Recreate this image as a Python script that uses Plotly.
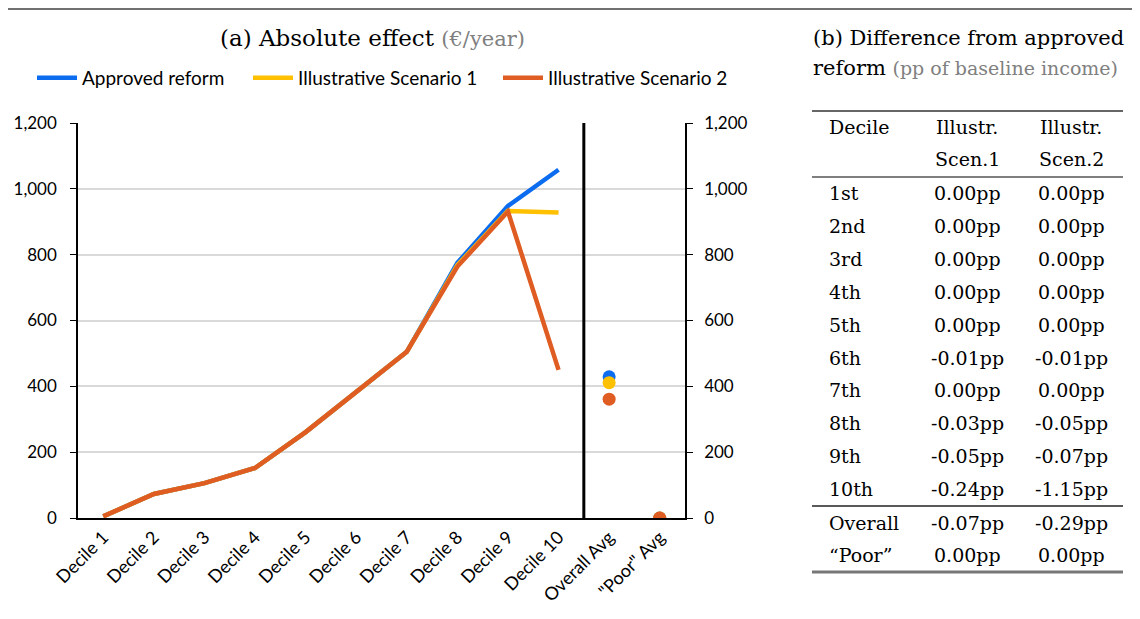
import plotly.graph_objects as go

# ---------------- data ----------------
categories = ["Decile 1", "Decile 2", "Decile 3", "Decile 4", "Decile 5", "Decile 6",
              "Decile 7", "Decile 8", "Decile 9", "Decile 10", "Overall Avg", '"Poor" Avg']
decile_cats = categories[:10]
avg_cats = categories[10:]

approved = [5, 73, 106, 152, 261, 383, 505, 775, 948, 1058]
scen1 = [5, 73, 106, 152, 261, 383, 505, 768, 933, 928]
scen2 = [5, 73, 106, 152, 261, 383, 505, 764, 931, 450]

approved_avg = [429, 0]
scen1_avg = [411, 0]
scen2_avg = [361, 0]

series_names = ["Approved reform", "Illustrative Scenario 1", "Illustrative Scenario 2"]
colors = ["#0B6CF0", "#FFC000", "#DF5C22"]

y_ticks = [0, 200, 400, 600, 800, 1000, 1200]

table_rows = ["1st", "2nd", "3rd", "4th", "5th", "6th", "7th", "8th", "9th", "10th", "Overall", "\u201cPoor\u201d"]
table_scen1 = [0.00, 0.00, 0.00, 0.00, 0.00, -0.01, 0.00, -0.03, -0.05, -0.24, -0.07, 0.00]
table_scen2 = [0.00, 0.00, 0.00, 0.00, 0.00, -0.01, 0.00, -0.05, -0.07, -1.15, -0.29, 0.00]

# ---------------- layout helpers ----------------
OFF = 8  # page body margin
W, H = 1140 - OFF, 619 - OFF
def px(x):
    return (x - OFF) / W
def py(y):
    return 1 - (y - OFF) / H

SANS = "Lato, Carlito, Calibri, sans-serif"
SERIF = "DejaVu Serif, serif"

fig = go.Figure()

legend_ids = ["legend", "legend2", "legend3"]
line_sets = [approved, scen1, scen2]
avg_sets = [approved_avg, scen1_avg, scen2_avg]
for name, col, ys, lg in zip(series_names, colors, line_sets, legend_ids):
    fig.add_trace(go.Scatter(x=decile_cats, y=ys, mode="lines", name=name,
                             line=dict(color=col, width=4.5), legendgroup=name,
                             legend=lg))
for name, col, avgs, lg in zip(series_names, colors, avg_sets, legend_ids):
    fig.add_trace(go.Scatter(x=avg_cats, y=avgs, mode="markers", name=name,
                             marker=dict(color=col, size=13), legendgroup=name,
                             showlegend=False, legend=lg))
# invisible trace to carry the right-hand axis
fig.add_trace(go.Scatter(x=decile_cats, y=approved, mode="lines", yaxis="y2",
                         line=dict(color="rgba(0,0,0,0)", width=0), showlegend=False,
                         hoverinfo="skip"))

axis_font = dict(family=SANS, size=17, color="#000")
legend_font = dict(family=SANS, size=19, color="#000")
def legend_at(xpage):
    return dict(orientation="h", x=px(xpage), y=py(78), xanchor="left",
                yanchor="middle", font=legend_font, bgcolor="rgba(0,0,0,0)",
                borderwidth=0, itemwidth=40)

fig.update_layout(
    width=W, height=H,
    margin=dict(l=0, r=0, t=0, b=0),
    paper_bgcolor="white", plot_bgcolor="white",
    xaxis=dict(domain=[px(78), px(685)], type="category", categoryorder="array",
               categoryarray=categories, range=[-0.5, 11.5], tickangle=-45,
               tickfont=dict(family=SANS, size=18, color="#000"),
               showgrid=False, showline=True, linecolor="#000", linewidth=1.5,
               ticks="", automargin=False, zeroline=False),
    yaxis=dict(domain=[py(518), py(123)], range=[0, 1200], tickvals=y_ticks,
               tickformat=",", tickfont=axis_font, showgrid=True,
               gridcolor="#D9D9D9", gridwidth=1.5, showline=True, linecolor="#000",
               linewidth=1.5, ticks="outside", ticklen=6, tickcolor="#000",
               ticklabelstandoff=10, zeroline=False, automargin=False),
    yaxis2=dict(overlaying="y", side="right", anchor="x", range=[0, 1200],
                tickvals=y_ticks, tickformat=",", tickfont=axis_font, showgrid=False,
                showline=True, linecolor="#000", linewidth=1.5, ticks="outside",
                ticklen=6, tickcolor="#000", ticklabelstandoff=8, zeroline=False,
                automargin=False),
    legend=legend_at(32),
    legend2=legend_at(248),
    legend3=legend_at(498),
    showlegend=True,
)

shapes = []
# separator line between deciles and averages
shapes.append(dict(type="line", xref="x", yref="y", x0=9.5, x1=9.5, y0=0, y1=1212,
                   line=dict(color="#000", width=3)))
# top rule of page
shapes.append(dict(type="line", xref="paper", yref="paper", x0=0, x1=1,
                   y0=py(9), y1=py(9), line=dict(color="#707070", width=2)))
# table rules
tx0, tx1 = px(812), px(1123)
shapes.append(dict(type="line", xref="paper", yref="paper", x0=tx0, x1=tx1,
                   y0=py(111), y1=py(111), line=dict(color="#333", width=1.5)))
shapes.append(dict(type="line", xref="paper", yref="paper", x0=tx0, x1=tx1,
                   y0=py(177), y1=py(177), line=dict(color="#555", width=1.5)))
shapes.append(dict(type="line", xref="paper", yref="paper", x0=tx0, x1=tx1,
                   y0=py(506), y1=py(506), line=dict(color="#222", width=1.5)))
shapes.append(dict(type="line", xref="paper", yref="paper", x0=tx0, x1=tx1,
                   y0=py(572), y1=py(572), line=dict(color="#777", width=3)))
fig.update_layout(shapes=shapes)

ann = []
def text(x, y, s, anchor="center", size=19, color="#000", family=SERIF):
    ann.append(dict(xref="paper", yref="paper", x=px(x), y=py(y), text=s,
                    showarrow=False, xanchor=anchor, yanchor="middle",
                    font=dict(family=family, size=size, color=color)))

text(372, 38, '(a) Absolute effect <span style="color:#808080;font-size:21px">(\u20ac/year)</span>',
     size=23)
text(811, 38, "(b) Difference from approved", anchor="left", size=21)
text(811, 68, 'reform <span style="color:#808080;font-size:19px">(pp of baseline income)</span>',
     anchor="left", size=21)

c1, c2, c3 = 827, 967, 1071
text(c1, 127, "Decile", anchor="left")
text(c2, 127, "Illustr.")
text(c3, 127, "Illustr.")
text(c2, 159, "Scen.1")
text(c3, 159, "Scen.2")
row_y = [193, 226, 259, 292, 325, 358, 390, 423, 456, 489, 523, 555]
for lab, v1, v2, yy in zip(table_rows, table_scen1, table_scen2, row_y):
    text(c1, yy, lab, anchor="left")
    text(c2, yy, f"{v1:.2f}pp")
    text(c3, yy, f"{v2:.2f}pp")
fig.update_layout(annotations=ann)

fig.write_html("out.html")
